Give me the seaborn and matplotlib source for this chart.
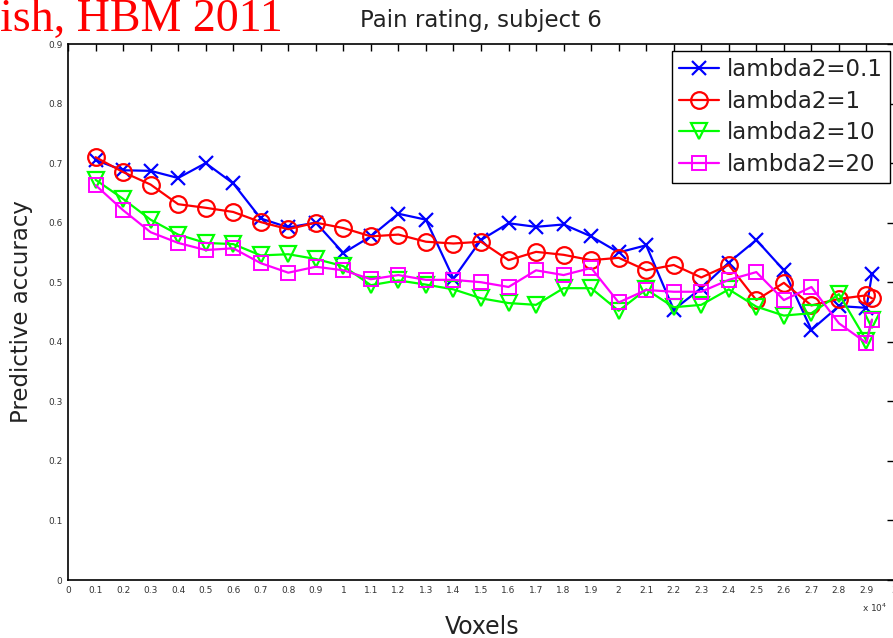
import matplotlib
matplotlib.use("Agg")
import matplotlib.pyplot as plt
import seaborn as sns
import numpy as np
import pandas as pd

# Number of voxels kept at each step (the last run stops just past 29000)
voxels = [1000, 2000, 3000, 4000, 5000, 6000, 7000, 8000, 9000, 10000,
          11000, 12000, 13000, 14000, 15000, 16000, 17000, 18000, 19000, 20000,
          21000, 22000, 23000, 24000, 25000, 26000, 27000, 28000, 29000, 29200]

acc_l01 = [0.705, 0.688, 0.687, 0.675, 0.700, 0.666, 0.607, 0.592, 0.600, 0.549,
           0.577, 0.615, 0.605, 0.506, 0.571, 0.599, 0.593, 0.597, 0.577, 0.550,
           0.562, 0.454, 0.490, 0.533, 0.571, 0.520, 0.420, 0.460, 0.457, 0.514]
acc_l1 = [0.710, 0.685, 0.664, 0.631, 0.625, 0.618, 0.601, 0.589, 0.600, 0.591,
          0.577, 0.580, 0.568, 0.565, 0.568, 0.537, 0.551, 0.546, 0.537, 0.541,
          0.520, 0.529, 0.508, 0.529, 0.470, 0.499, 0.461, 0.472, 0.478, 0.473]
acc_l10 = [0.672, 0.640, 0.605, 0.580, 0.566, 0.564, 0.545, 0.547, 0.539, 0.527,
           0.495, 0.503, 0.496, 0.488, 0.473, 0.465, 0.462, 0.490, 0.490, 0.452,
           0.488, 0.458, 0.462, 0.488, 0.459, 0.444, 0.448, 0.480, 0.402, 0.437]
acc_l20 = [0.663, 0.621, 0.584, 0.566, 0.554, 0.557, 0.532, 0.516, 0.526, 0.520,
           0.505, 0.512, 0.504, 0.504, 0.500, 0.492, 0.520, 0.512, 0.524, 0.466,
           0.487, 0.484, 0.484, 0.504, 0.517, 0.470, 0.492, 0.431, 0.398, 0.437]

series_labels = ["lambda2=0.1", "lambda2=1", "lambda2=10", "lambda2=20"]
x_ticks = [0, 0.1, 0.2, 0.3, 0.4, 0.5, 0.6, 0.7, 0.8, 0.9, 1, 1.1, 1.2, 1.3, 1.4, 1.5,
           1.6, 1.7, 1.8, 1.9, 2, 2.1, 2.2, 2.3, 2.4, 2.5, 2.6, 2.7, 2.8, 2.9, 3]
y_ticks = [0, 0.1, 0.2, 0.3, 0.4, 0.5, 0.6, 0.7, 0.8, 0.9]

sns.set_style("white")
plt.rcParams["font.family"] = ["DejaVu Sans"]

W, H = 893, 638
fig = plt.figure(figsize=(W / 100, H / 100), dpi=100)
x0, x1 = 68, 894
y0, y1 = 580, 44
ax = fig.add_axes([x0 / W, 1 - y0 / H, (x1 - x0) / W, (y0 - y1) / H])

styles = [
    dict(color="#0000ff", marker="x", markersize=10, markeredgewidth=1.6),
    dict(color="#ff0000", marker="o", markersize=12, markeredgewidth=1.6),
    dict(color="#00ff00", marker="v", markersize=12, markeredgewidth=1.6),
    dict(color="#ff00ff", marker="s", markersize=10, markeredgewidth=1.4),
]
for vals, lab, st in zip([acc_l01, acc_l1, acc_l10, acc_l20], series_labels, styles):
    sns.lineplot(x=voxels, y=vals, ax=ax, label=lab, sort=False, errorbar=None,
                 color=st["color"], marker=st["marker"], markersize=st["markersize"],
                 markerfacecolor="none", markeredgecolor=st["color"],
                 markeredgewidth=st["markeredgewidth"], linewidth=1.6)

ax.set_xlim(0, 30000)
ax.set_ylim(0, 0.9)
ax.set_xticks([t * 1e4 for t in x_ticks])
ax.set_xticklabels([f"{t:g}" for t in x_ticks])
ax.set_yticks(y_ticks)
ax.set_yticklabels([f"{t:g}" for t in y_ticks])
ax.tick_params(direction="in", length=5, width=1.0, top=True, right=True,
               labelsize=6.5, pad=4, colors="black")
ax.tick_params(labelcolor="#333333")
for sp in ax.spines.values():
    sp.set_color("black")
    sp.set_linewidth(1.2)

ax.set_xlabel("")
ax.set_ylabel("")
fig.text(22 / W, 1 - 312 / H, "Predictive accuracy", rotation=90, ha="center",
         va="center", fontsize=16.5, color="#222222")
fig.text(482 / W, 1 - 627 / H, "Voxels", ha="center", va="center",
         fontsize=17, color="#222222")
fig.text(481 / W, 1 - 21 / H, "Pain rating, subject 6", ha="center", va="center",
         fontsize=16.5, color="#222222")
fig.text(862 / W, 1 - 608 / H, r"x 10$^{4}$", ha="left", va="center",
         fontsize=6.5, color="#333333")
fig.text(0 / W, 1 - 31 / H, "ish, HBM 2011", ha="left", va="baseline",
         fontsize=33, color="#ff0000", family=["Liberation Serif", "DejaVu Serif"])

leg = ax.legend(loc="upper right", bbox_to_anchor=(890 / W, 1 - 51 / H),
                bbox_transform=fig.transFigure, fontsize=16.5, frameon=True,
                fancybox=False, framealpha=1, edgecolor="black",
                handlelength=1.75, handletextpad=0.35, labelspacing=0.38,
                borderpad=0.3, borderaxespad=0)
leg.get_frame().set_linewidth(1.0)
for t in leg.get_texts():
    t.set_color("#222222")

fig.savefig("out.png", dpi=100)
